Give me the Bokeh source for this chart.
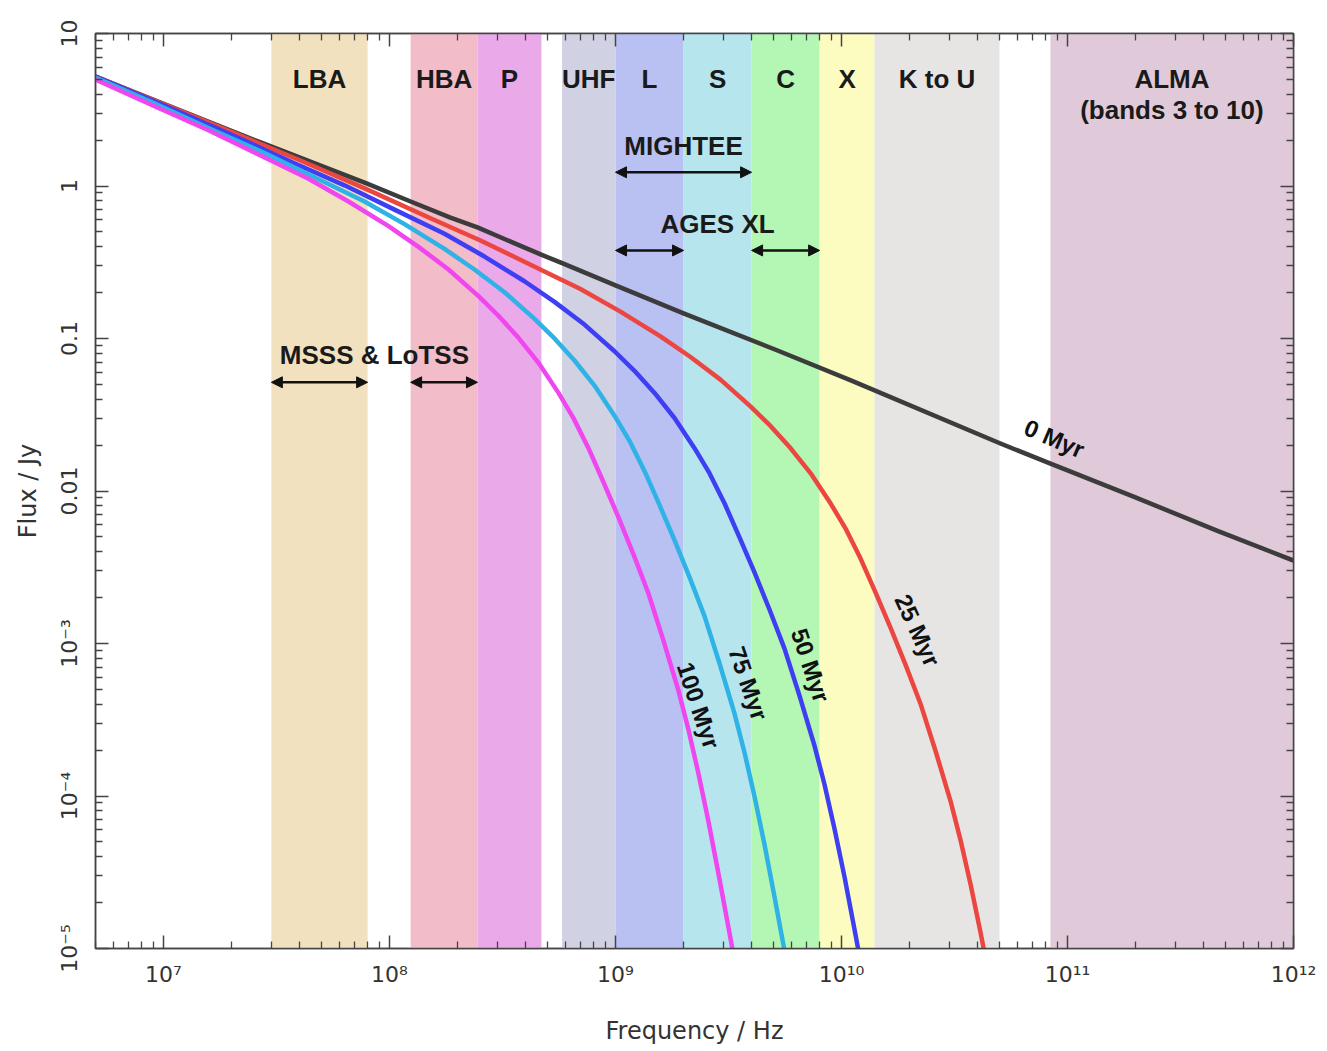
from bokeh.plotting import figure
from bokeh.models import (ColumnDataSource, LogAxis, FixedTicker, CustomJSTickFormatter,
                          Arrow, NormalHead, Range1d)
from bokeh.core.properties import value
from bokeh.embed import file_html
from bokeh.resources import INLINE

# ---------------- data ----------------
ages = ["0 Myr", "25 Myr", "50 Myr", "75 Myr", "100 Myr"]
curve_colors = ["#3c3c3c", "#ec4640", "#3e3ef2", "#2fb3e6", "#f046ef"]

freq_0 = [5.0e6, 2.69e7, 7.91e7, 1.24e8, 1.86e8, 2.45e8, 4.66e8, 5.77e8, 1.0e9, 2.0e9,
          5.21e9, 1.10e10, 5.05e10, 8.41e10, 1.96e11, 4.61e11, 1.0e12]
flux_0 = [5.22, 1.93, 1.04, 0.791, 0.621, 0.535, 0.356, 0.313, 0.223, 0.146,
          0.0834, 0.0531, 0.0205, 0.0151, 0.00919, 0.00547, 0.0035]

freq_25 = [5.0e6, 1.458e7, 4.037e7, 7.99e7, 1.518e8, 2.527e8, 4.206e8, 6.998e8, 1.052e9, 1.581e9,
           2.147e9, 2.914e9, 3.955e9, 4.849e9, 5.945e9, 7.29e9, 8.94e9, 1.041e10, 1.213e10,
           1.414e10, 1.647e10, 1.919e10, 2.236e10, 2.605e10, 3.035e10, 3.360e10, 3.722e10,
           4.12e10, 4.563e10]
flux_25 = [5.22, 2.75, 1.47, 0.946, 0.615, 0.4395, 0.3047, 0.2113, 0.1500, 0.1033,
           0.07562, 0.05372, 0.03592, 0.02672, 0.01913, 0.01310, 0.008300, 0.005694, 0.003617,
           0.002162, 0.001273, 7.27e-4, 4.03e-4, 1.98e-4, 9.30e-5, 5.16e-5, 2.65e-5,
           1.28e-5, 5.85e-6]

freq_50 = [5.0e6, 1.010e7, 2.0e7, 3.797e7, 6.321e7, 1.052e8, 1.751e8, 2.632e8, 3.955e8, 5.370e8,
           7.288e8, 9.897e8, 1.213e9, 1.488e9, 1.824e9, 2.236e9, 2.605e9, 3.035e9, 3.537e9,
           4.121e9, 4.801e9, 5.594e9, 6.516e9, 7.592e9, 8.41e9, 9.31e9, 1.031e10, 1.141e10,
           1.264e10]
flux_50 = [5.22, 3.37, 2.17, 1.41, 1.010, 0.700, 0.486, 0.3445, 0.2373, 0.1738,
           0.1234, 0.08251, 0.06138, 0.04397, 0.03010, 0.01910, 0.01308, 0.008308, 0.004966,
           0.002925, 0.001671, 9.26e-4, 4.55e-4, 2.14e-4, 1.19e-4, 6.09e-5, 2.95e-5, 1.34e-5,
           5.94e-6]

freq_75 = [5.0e6, 8.847e6, 1.681e7, 2.797e7, 4.656e7, 7.75e7, 1.165e8, 1.751e8, 2.377e8, 3.227e8,
           4.381e8, 5.370e8, 6.584e8, 8.072e8, 9.897e8, 1.153e9, 1.343e9, 1.565e9, 1.824e9,
           2.125e9, 2.476e9, 2.884e9, 3.360e9, 3.721e9, 4.121e9, 4.563e9, 5.051e9, 5.594e9,
           6.194e9]
flux_75 = [5.145, 3.545, 2.305, 1.647, 1.142, 0.791, 0.562, 0.387, 0.2834, 0.2012,
           0.1346, 0.1001, 0.07171, 0.04910, 0.03120, 0.02134, 0.01355, 0.008100, 0.004771,
           0.002725, 0.001511, 7.42e-4, 3.48e-4, 1.93e-4, 9.94e-5, 4.81e-5, 2.19e-5, 9.69e-6,
           4.29e-6]

freq_100 = [5.0e6, 9.502e6, 1.581e7, 2.632e7, 4.38e7, 6.584e7, 9.897e7, 1.343e8, 1.824e8, 2.476e8,
            3.035e8, 3.721e8, 4.563e8, 5.594e8, 6.516e8, 7.592e8, 8.848e8, 1.031e9, 1.201e9,
            1.399e9, 1.630e9, 1.899e9, 2.103e9, 2.329e9, 2.579e9, 2.855e9, 3.162e9, 3.501e9]
flux_100 = [4.99, 3.246, 2.320, 1.608, 1.115, 0.791, 0.5452, 0.3991, 0.2835, 0.1896,
            0.1410, 0.1010, 0.06930, 0.04400, 0.03005, 0.01909, 0.01141, 0.006720, 0.003839,
            0.002128, 0.001045, 4.91e-4, 2.72e-4, 1.40e-4, 6.78e-5, 3.09e-5, 1.37e-5, 6.04e-6]

band_names = ["LBA", "HBA", "P", "UHF", "L", "S", "C", "X", "K to U", "ALMA"]
band_lo = [3.0e7, 1.24e8, 2.45e8, 5.8e8, 1.0e9, 2.0e9, 4.0e9, 8.0e9, 1.4e10, 8.4e10]
band_hi = [8.0e7, 2.45e8, 4.7e8, 1.0e9, 2.0e9, 4.0e9, 8.0e9, 1.4e10, 5.0e10, 1.0e12]
band_colors = ["#f2e1bf", "#f2bcc8", "#eaa9e8", "#d1d1e4", "#b9c1f3", "#b6e5ee",
               "#b4f6b4", "#fdfcc0", "#e6e5e4", "#e0cad9"]

survey_names = ["MSSS & LoTSS", "MIGHTEE", "AGES XL"]
survey_lo = [[3.0e7, 1.24e8], [1.0e9], [1.0e9, 4.0e9]]
survey_hi = [[8.0e7, 2.45e8], [4.0e9], [2.0e9, 8.0e9]]

X_MIN, X_MAX = 5.0e6, 1.0e12
Y_MIN, Y_MAX = 1.0e-5, 10.0

# ---------------- figure ----------------
p = figure(x_axis_type="log", y_axis_type="log",
           x_range=Range1d(X_MIN, X_MAX), y_range=Range1d(Y_MIN, Y_MAX),
           frame_width=1198, frame_height=915,
           min_border_left=95, min_border_top=33, min_border_right=30, min_border_bottom=90,
           output_backend="svg", toolbar_location=None,
           background_fill_color="white", border_fill_color="white")
p.xgrid.visible = False
p.ygrid.visible = False
p.outline_line_color = "#444444"
p.outline_line_width = 1.5

# bands
band_src = ColumnDataSource(dict(left=band_lo, right=band_hi, color=band_colors,
                                 bottom=[Y_MIN] * len(band_lo), top=[Y_MAX] * len(band_lo)))
p.quad(left="left", right="right", bottom="bottom", top="top", fill_color="color",
       line_color=None, source=band_src)

# band labels
band_mid = [(lo * hi) ** 0.5 for lo, hi in zip(band_lo, band_hi)]
bold_font = value("Liberation Sans")
lbl_src = ColumnDataSource(dict(x=band_mid, y=[5.0] * len(band_mid), text=band_names))
p.text(x="x", y="y", text="text", source=lbl_src, text_font=bold_font,
       text_font_style="bold", text_font_size="26px", text_align="center",
       text_baseline="middle", text_color="#1a1a1a")
p.text(x=[band_mid[-1]], y=[3.13], text=["(bands 3 to 10)"], text_font=bold_font,
       text_font_style="bold", text_font_size="26px", text_align="center",
       text_baseline="middle", text_color="#1a1a1a")

# surveys
survey_text_y = [0.0785, 1.82, 0.567]
survey_arrow_y = [0.0516, 1.23, 0.378]
for lo, hi, yy in zip(survey_lo, survey_hi, survey_arrow_y):
    for a, b in zip(lo, hi):
        p.add_layout(Arrow(x_start=a, y_start=yy, x_end=b, y_end=yy,
                           line_width=2.5, line_color="#111111",
                           start=NormalHead(size=11, fill_color="#111111", line_color="#111111"),
                           end=NormalHead(size=11, fill_color="#111111", line_color="#111111")))
survey_mid = [(min(lo) * max(hi)) ** 0.5 for lo, hi in zip(survey_lo, survey_hi)]
p.text(x=survey_mid, y=survey_text_y, text=survey_names, text_font=bold_font,
       text_font_style="bold", text_font_size="26px", text_align="center",
       text_baseline="middle", text_color="#1a1a1a")

# curves
all_freq = [freq_0, freq_25, freq_50, freq_75, freq_100]
all_flux = [flux_0, flux_25, flux_50, flux_75, flux_100]
for fx, fy, col in zip(all_freq, all_flux, curve_colors):
    p.line(fx, fy, line_color=col, line_width=4.5, line_join="round")

# curve labels
cl_x = [8.75e10, 2.17e10, 7.29e9, 3.87e9, 2.33e9]
cl_y = [0.0221, 1.22e-3, 7.18e-4, 5.47e-4, 3.92e-4]
cl_angle = [-0.40, -1.145, -1.25, -1.24, -1.25]
p.text(x=cl_x, y=cl_y, text=ages, angle=cl_angle, text_font=bold_font,
       text_font_style="bold", text_font_size="24px", text_align="center",
       text_baseline="middle", text_color="#111111")

# ---------------- axes ----------------
x_major = [1e7, 1e8, 1e9, 1e10, 1e11, 1e12]
x_minor = [m * 10 ** d for d in range(6, 12) for m in range(2, 10) if X_MIN <= m * 10 ** d <= X_MAX]
y_major = [1e-5, 1e-4, 1e-3, 1e-2, 1e-1, 1, 10]
y_minor = [m * 10.0 ** d for d in range(-5, 1) for m in range(2, 10)]

sup_js = """
const sup = {"-":"\u207b","0":"\u2070","1":"\u00b9","2":"\u00b2","3":"\u00b3","4":"\u2074",
             "5":"\u2075","6":"\u2076","7":"\u2077","8":"\u2078","9":"\u2079"};
const e = Math.round(Math.log10(tick));
const s = String(e).split("").map(c => sup[c]).join("");
"""
xfmt = CustomJSTickFormatter(code=sup_js + 'return "10" + s;')
yfmt = CustomJSTickFormatter(code=sup_js + """
const small = {"1":"10","0":"1","-1":"0.1","-2":"0.01"};
if (String(e) in small) { return small[String(e)]; }
return "10" + s;
""")

label_font = "DejaVu Sans"
tick_color = "#444444"

xa = p.xaxis[0]
ya = p.yaxis[0]
xa.ticker = FixedTicker(ticks=x_major, minor_ticks=x_minor)
ya.ticker = FixedTicker(ticks=y_major, minor_ticks=y_minor)
xa.formatter = xfmt
ya.formatter = yfmt
xa.axis_label = "Frequency / Hz"
ya.axis_label = "Flux / Jy"
ya.major_label_orientation = "vertical"
xa.major_label_standoff = 13
ya.major_label_standoff = 14
xa.axis_label_standoff = 27
ya.axis_label_standoff = 12

top = LogAxis(ticker=FixedTicker(ticks=x_major, minor_ticks=x_minor))
right = LogAxis(ticker=FixedTicker(ticks=y_major, minor_ticks=y_minor))
p.add_layout(top, "above")
p.add_layout(right, "right")
for ax in (top, right):
    ax.major_label_text_font_size = "6px"
    ax.major_label_text_alpha = 0.0
    ax.major_label_standoff = 0

for ax in (xa, ya, top, right):
    ax.major_tick_in = 13
    ax.major_tick_out = 0
    ax.minor_tick_in = 7
    ax.minor_tick_out = 0
    ax.axis_line_color = tick_color
    ax.axis_line_width = 1.5
    ax.major_tick_line_color = tick_color
    ax.major_tick_line_width = 1.5
    ax.minor_tick_line_color = tick_color
    ax.minor_tick_line_width = 1.3

for ax in (xa, ya):
    ax.major_label_text_font = label_font
    ax.major_label_text_font_size = "22px"
    ax.major_label_text_color = "#333333"
    ax.axis_label_text_font = label_font
    ax.axis_label_text_font_size = "24px"
    ax.axis_label_text_font_style = "normal"
    ax.axis_label_text_color = "#333333"

open("out.html", "w").write(file_html(p, INLINE))
